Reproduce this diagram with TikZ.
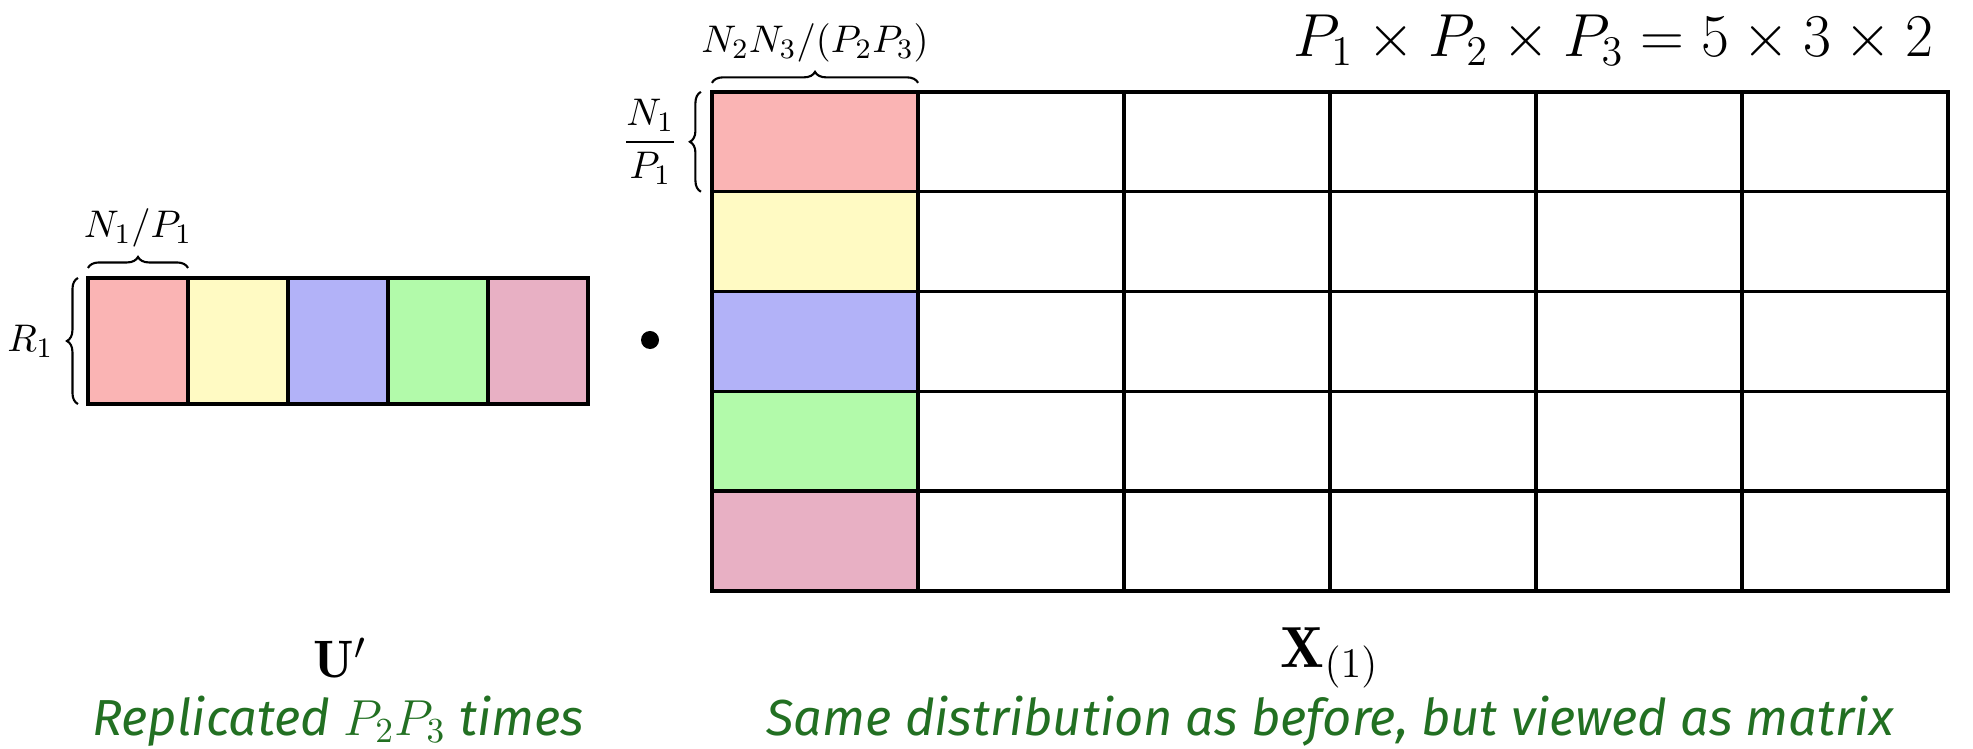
\documentclass[tikz,border=0pt]{standalone}
\usepackage{amsmath,amssymb}
\usepackage{fontspec}
\newfontfamily\handfont{Fira Sans}
\usetikzlibrary{decorations.pathreplacing,positioning}
\definecolor{cellred}{RGB}{250,180,180}
\definecolor{cellyellow}{RGB}{255,250,195}
\definecolor{cellblue}{RGB}{178,178,248}
\definecolor{cellgreen}{RGB}{178,250,170}
\definecolor{cellmauve}{RGB}{232,176,196}
\definecolor{notegreen}{RGB}{34,112,34}

\begin{document}
\begin{tikzpicture}[x=0.01cm,y=-0.01cm,font=\fontsize{11}{13}\selectfont,
 cell/.style={draw,line width=1pt,minimum width=1cm,minimum height=1.26cm,inner sep=0pt,outer sep=0pt},
 mcell/.style={draw,line width=1pt,minimum width=2.06cm,minimum height=0.998cm,inner sep=0pt,outer sep=0pt},
 brc/.style={decorate,decoration={brace,amplitude=1.1mm},line width=0.6pt},
 lbl/.style={inner sep=1pt},
 big/.style={font=\fontsize{15}{17}\selectfont},
 note/.style={text=notegreen,font=\handfont\itshape\fontsize{14.4}{16}\selectfont}]
\useasboundingbox (0,0) rectangle (1973,749);
% replicated factor strip
\foreach \col [count=\i] in {cellred,cellyellow,cellblue,cellgreen,cellmauve}
  \node[cell,fill=\col] (u\i) at (38+\i*100,341) {};
\draw[brc] ([xshift=-1mm]u1.south west) -- ([xshift=-1mm]u1.north west)
  node[lbl,midway,left=2mm] (rlab) {$R_1$};
\draw[brc] ([yshift=1mm]u1.north west) -- ([yshift=1mm]u1.north east)
  node[lbl,midway,above=1.6mm] (nlab) {$N_1/P_1$};
\node[circle,fill,inner sep=0pt,minimum size=0.18cm] (dot) at (650,340) {};
% unfolded tensor
\foreach \col [count=\r] in {cellred,cellyellow,cellblue,cellgreen,cellmauve}{
  \node[mcell,fill=\col] (x\r1) at (815,42+\r*99.8) {};
  \foreach \c in {2,...,6}
    \node[mcell] (x\r\c) at (609+\c*206,42+\r*99.8) {};
}
\draw[brc] ([yshift=0.9mm]x11.north west) -- ([yshift=0.9mm]x11.north east)
  node[lbl,midway,above=1.6mm] (clab) {$N_2N_3/(P_2P_3)$};
\draw[brc] ([xshift=-1.1mm]x11.south west) -- ([xshift=-1.1mm]x11.north west)
  node[lbl,midway,left=1.8mm] (blab) {$\dfrac{N_1}{P_1}$};
\node[anchor=east,font=\fontsize{16.5}{19}\selectfont] (title) at (1946,40) {$P_1\times P_2\times P_3=5\times3\times2$};
% captions
\node[big] (ulab) at (340,658) {$\mathbf{U}'$};
\node[big,font=\fontsize{16.5}{19}\selectfont] (xlab) at (1330,658) {$\mathbf{X}_{(1)}$};
\node[note] (unote) at (338,721) {Replicated $P_2P_3$ times};
\node[note] (xnote) at (1330,721) {Same distribution as before, but viewed as matrix};
\end{tikzpicture}
\end{document}
